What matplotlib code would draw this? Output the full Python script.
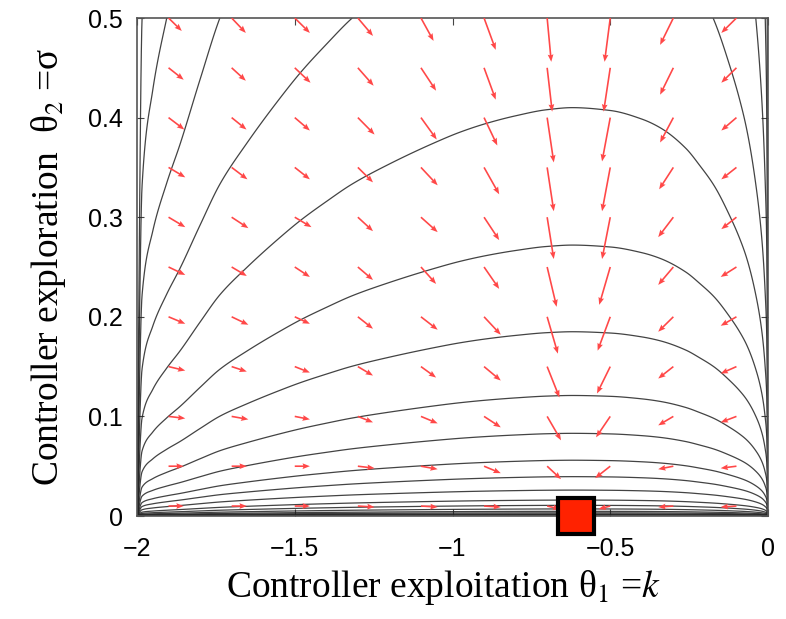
import numpy as np
import matplotlib
matplotlib.use("Agg")
import matplotlib.pyplot as plt

# ---------------- data ----------------
# contour shape: relative height of every contour line vs k (peak = 1)
K_PROF = [-2.0, -1.984, -1.95, -1.906, -1.863, -1.80, -1.737, -1.65, -1.55, -1.48,
          -1.40, -1.32, -1.20, -1.06, -0.976, -0.89, -0.80, -0.70, -0.62, -0.50,
          -0.40, -0.34, -0.26, -0.216, -0.17, -0.12, -0.09, -0.067, -0.041, -0.02,
          -0.009, -0.003, 0.0]
P_PROF = [0.0, 0.24, 0.31, 0.362, 0.405, 0.475, 0.542, 0.61, 0.68, 0.725,
          0.77, 0.812, 0.862, 0.913, 0.94, 0.962, 0.98, 0.995, 1.0, 0.993,
          0.972, 0.95, 0.90, 0.858, 0.808, 0.733, 0.68, 0.63, 0.55, 0.455,
          0.365, 0.27, 0.0]
# contour levels = height of each contour line at its peak (sigma)
LEVELS = [0.00094, 0.0014, 0.0021, 0.0032, 0.0047, 0.0071, 0.0107, 0.016,
          0.026, 0.0395, 0.056, 0.083, 0.121, 0.185, 0.272, 0.41, 0.615,
          0.923, 1.38, 2.08]

# gradient arrows: grid and components (data units)
K_ARROW = [-1.9, -1.7, -1.5, -1.3, -1.1, -0.9, -0.7, -0.5, -0.3, -0.1]
S_ARROW = [0.5, 0.45, 0.4, 0.35, 0.3, 0.25, 0.2, 0.15, 0.1, 0.05, 0.01]
U_ARROW = [
    [.042, .045, .048, .048, .040, .037, .013, -.018, -.042, -.048],
    [.048, .045, .050, .050, .048, .037, .016, -.021, -.042, -.048],
    [.050, .047, .048, .053, .050, .042, .021, -.026, -.042, -.048],
    [.053, .050, .048, .048, .053, .048, .021, -.026, -.045, -.048],
    [.053, .053, .053, .048, .053, .048, .021, -.026, -.048, -.048],
    [.053, .048, .048, .048, .048, .048, .030, -.035, -.048, -.050],
    [.053, .053, .048, .048, .053, .053, .034, -.040, -.048, -.050],
    [.053, .048, .048, .048, .048, .053, .039, -.042, -.048, -.050],
    [.053, .053, .048, .048, .053, .053, .044, -.045, -.048, -.050],
    [.048, .048, .048, .053, .053, .053, .044, -.048, -.048, -.050],
    [.048, .048, .048, .053, .053, .053, .042, -.037, -.048, -.050],
]
V_ARROW = [
    [-.013, -.015, -.015, -.018, -.023, -.032, -.044, -.044, -.027, -.015],
    [-.012, -.013, -.015, -.018, -.023, -.032, -.044, -.044, -.027, -.015],
    [-.012, -.012, -.013, -.017, -.022, -.028, -.045, -.044, -.025, -.013],
    [-.010, -.012, -.012, -.015, -.018, -.027, -.044, -.044, -.022, -.012],
    [-.010, -.011, -.010, -.014, -.015, -.023, -.042, -.042, -.020, -.012],
    [-.008, -.009, -.010, -.013, -.017, -.022, -.040, -.038, -.018, -.010],
    [-.007, -.008, -.007, -.012, -.013, -.018, -.037, -.034, -.015, -.009],
    [-.004, -.005, -.006, -.009, -.011, -.014, -.031, -.027, -.012, -.007],
    [-.002, -.003, -.003, -.006, -.007, -.011, -.024, -.021, -.009, -.006],
    [0.0, 0.0, 0.0, -.002, -.003, -.007, -.013, -.012, -.003, -.002],
    [0.0, 0.0, 0.0, -.001, -.001, -.001, -.003, -.003, -.001, -.001],
]
OPT_K, OPT_S = -0.61, 0.0

X_TICKS = [-2, -1.5, -1, -0.5, 0]
Y_TICKS = [0, 0.1, 0.2, 0.3, 0.4, 0.5]


def pchip(xk, yk, x):
    xk = np.asarray(xk, float); yk = np.asarray(yk, float)
    h = np.diff(xk); d = np.diff(yk) / h
    n = len(xk)
    m = np.zeros(n)
    for i in range(1, n - 1):
        if d[i - 1] * d[i] > 0:
            w1 = 2 * h[i] + h[i - 1]; w2 = h[i] + 2 * h[i - 1]
            m[i] = (w1 + w2) / (w1 / d[i - 1] + w2 / d[i])
    m[0] = d[0]; m[-1] = d[-1]
    idx = np.clip(np.searchsorted(xk, x) - 1, 0, n - 2)
    t = (x - xk[idx]) / h[idx]
    h00 = 2 * t**3 - 3 * t**2 + 1; h10 = t**3 - 2 * t**2 + t
    h01 = -2 * t**3 + 3 * t**2; h11 = t**3 - t**2
    return (h00 * yk[idx] + h10 * h[idx] * m[idx] + h01 * yk[idx + 1]
            + h11 * h[idx] * m[idx + 1])


plt.rcParams['mathtext.fontset'] = 'stix'

fig = plt.figure(figsize=(7.86, 6.19), dpi=100)
ax = fig.add_axes([137 / 786, 1 - 516 / 619, 631 / 786, 498 / 619])

kg = np.linspace(-2, 0, 1601)
sg = np.linspace(0, 0.5, 801)
K, S = np.meshgrid(kg, sg)
P = pchip(K_PROF, P_PROF, kg)
P = np.where(P > 1e-9, P, 1e-9)
Z = S / P[None, :]
ax.contour(K, S, Z, levels=LEVELS, colors='#222222', linewidths=0.9, alpha=0.85)

KA, SA = np.meshgrid(K_ARROW, S_ARROW)
ax.quiver(KA, SA, np.array(U_ARROW), np.array(V_ARROW), angles='xy',
          scale_units='xy', scale=1, color='#ff4848', width=0.0026,
          headwidth=3.5, headlength=4.5, headaxislength=4, zorder=3)

ax.plot([OPT_K], [OPT_S], marker='s', markersize=26, markerfacecolor='#ff2200',
        markeredgecolor='black', markeredgewidth=3, clip_on=False, zorder=5)

ax.set_xlim(-2, 0)
ax.set_ylim(0, 0.5)
ax.set_xticks(X_TICKS)
ax.set_xticklabels(['\u22122', '\u22121.5', '\u22121', '\u22120.5', '0'])
ax.set_yticks(Y_TICKS)
ax.set_yticklabels(['0', '0.1', '0.2', '0.3', '0.4', '0.5'])
ax.tick_params(direction='in', length=5, width=0.8, top=True, right=True,
               labelsize=18, color='#444444')
ax.tick_params(axis='x', pad=15)
ax.tick_params(axis='y', pad=10)
for lab in ax.get_xticklabels() + ax.get_yticklabels():
    lab.set_family(['Liberation Sans', 'DejaVu Sans'])
for sp in ax.spines.values():
    sp.set_color('#555555')
    sp.set_linewidth(1.2)

ax.set_xlabel('Controller exploitation \u03b8$_{\\mathit{1}}$ =$k$',
              family='Liberation Serif', fontsize=27, va='top')
ax.xaxis.set_label_coords(0.486, -0.105)
ax.set_ylabel('Controller exploration  \u03b8$_{\\mathit{2}}$ =\u03c3',
              family='Liberation Serif', fontsize=27, va='bottom')
ax.yaxis.set_label_coords(-0.11, 0.5)

fig.savefig('out.png', dpi=100)
